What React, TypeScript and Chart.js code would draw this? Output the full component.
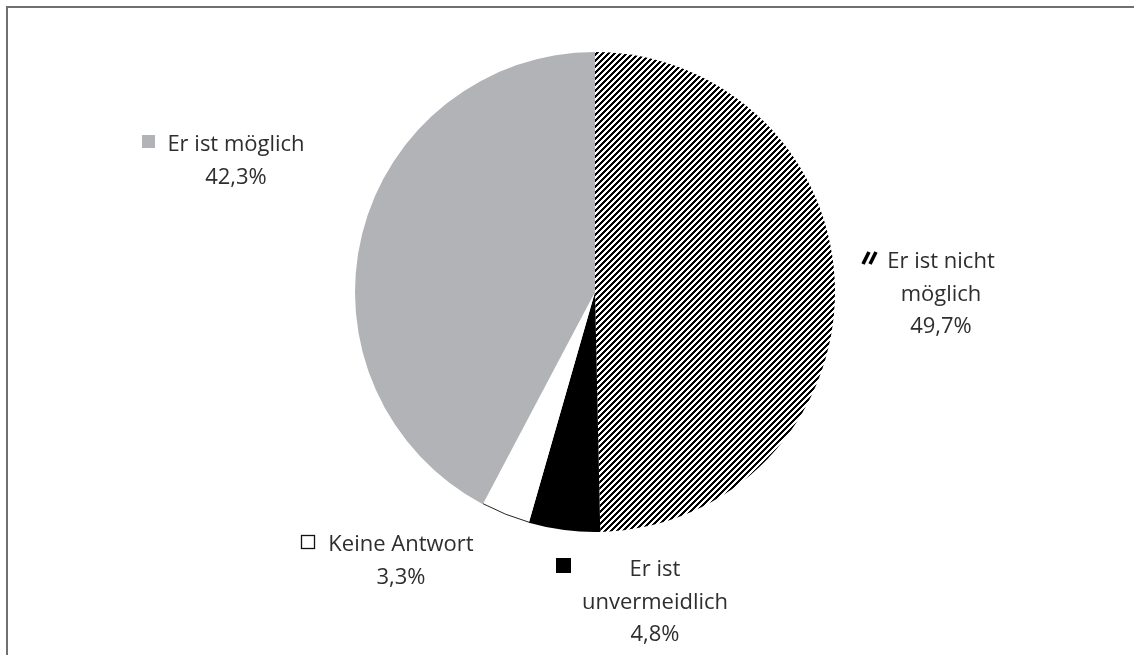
import { useEffect, useRef } from "react";
import { Chart, registerables } from "chart.js";

Chart.register(...registerables);

const categories = ["Er ist nicht möglich", "Er ist unvermeidlich", "Keine Antwort", "Er ist möglich"];
const values = [49.7, 4.8, 3.3, 42.3];
const labelNameLines = [["Er ist nicht", "möglich"], ["Er ist", "unvermeidlich"], ["Keine Antwort"], ["Er ist möglich"]];

const GRAY = "#b1b3b6";
const TEXT = "#2e2e2e";
const FONT = "22px 'Open Sans', Lato, sans-serif";
const LINE_H = 32.5;

// label block layout: centre x of text, baseline of first line, icon rect
const labelLayout = [
  { cx: 941, y: 268, icon: [862, 252, 15, 12] },
  { cx: 655, y: 576, icon: [556, 558, 15, 15] },
  { cx: 401, y: 551, icon: [301, 535, 13, 13] },
  { cx: 236, y: 151, icon: [142, 135, 13, 13] },
];

function makeHatch(): CanvasPattern | string {
  const s = 6;
  const c = document.createElement("canvas");
  c.width = s;
  c.height = s;
  const g = c.getContext("2d");
  if (!g) return "#000";
  const img = g.createImageData(s, s);
  for (let y = 0; y < s; y++) {
    for (let x = 0; x < s; x++) {
      const k = (x + y) % s;
      const v = k < 3 ? 0 : 255;
      const o = (y * s + x) * 4;
      img.data[o] = v;
      img.data[o + 1] = v;
      img.data[o + 2] = v;
      img.data[o + 3] = 255;
    }
  }
  g.putImageData(img, 0, 0);
  const p = g.createPattern(c, "repeat");
  return p || "#000";
}

const fmt = (v: number) => v.toFixed(1).replace(".", ",") + "%";

export default function App() {
  const ref = useRef<HTMLCanvasElement>(null);
  useEffect(() => {
    if (!ref.current) return;
    const hatch = makeHatch();
    const labelPlugin = {
      id: "labels",
      afterDatasetsDraw(chart: any) {
        const ctx = chart.ctx as CanvasRenderingContext2D;
        const meta = chart.getDatasetMeta(0);
        const w = meta.data[2];
        if (w) {
          ctx.save();
          ctx.strokeStyle = "#222";
          ctx.lineWidth = 1;
          ctx.beginPath();
          ctx.arc(w.x, w.y, w.outerRadius - 0.5, w.startAngle, w.endAngle);
          ctx.stroke();
          ctx.restore();
        }
        ctx.save();
        ctx.font = FONT;
        ctx.fillStyle = TEXT;
        ctx.textAlign = "center";
        ctx.textBaseline = "alphabetic";
        categories.forEach((_, i) => {
          const L = labelLayout[i];
          const lines = [...labelNameLines[i], fmt(values[i])];
          lines.forEach((t, k) => ctx.fillText(t, L.cx, L.y + k * LINE_H));
          const [x, y, iw, ih] = L.icon;
          if (i === 0) {
            ctx.strokeStyle = "#000";
            ctx.lineWidth = 3.6;
            ctx.beginPath();
            ctx.moveTo(x + 1, y + ih);
            ctx.lineTo(x + 7, y);
            ctx.moveTo(x + 8, y + ih);
            ctx.lineTo(x + 14, y);
            ctx.stroke();
          } else if (i === 1) {
            ctx.fillStyle = "#000";
            ctx.fillRect(x, y, iw, ih);
          } else if (i === 2) {
            ctx.strokeStyle = "#111";
            ctx.lineWidth = 1.3;
            ctx.strokeRect(x + 0.5, y + 0.5, iw, ih);
          } else {
            ctx.fillStyle = GRAY;
            ctx.fillRect(x, y, iw, ih);
          }
          ctx.fillStyle = TEXT;
        });
        ctx.restore();
      },
    };
    const chart = new Chart(ref.current, {
      type: "pie",
      data: {
        labels: categories,
        datasets: [
          {
            data: values,
            backgroundColor: [hatch as any, "#000000", "#ffffff", GRAY],
            borderWidth: 0,
          },
        ],
      },
      options: {
        responsive: false,
        animation: false,
        layout: { padding: { left: 355, right: 299, top: 52, bottom: 123 } },
        plugins: { legend: { display: false }, tooltip: { enabled: false } },
      },
      plugins: [labelPlugin],
    });
    return () => chart.destroy();
  }, []);
  return (
    <div style={{ position: "fixed", left: 0, top: 0, width: 1134, height: 655, background: "#fff" }}>
      <canvas ref={ref} width={1134} height={655} style={{ position: "absolute", left: 0, top: 0, width: 1134, height: 655 }} />
      <div
        style={{
          position: "absolute",
          left: 6,
          top: 6,
          right: 0,
          bottom: 0,
          borderTop: "2px solid #707070",
          borderLeft: "2px solid #707070",
          pointerEvents: "none",
        }}
      />
    </div>
  );
}
